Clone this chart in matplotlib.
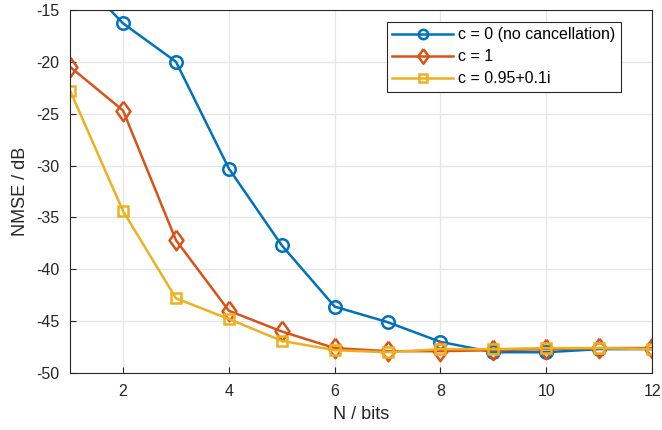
import numpy as np
import matplotlib.pyplot as plt

plt.rcParams['font.family'] = ['Liberation Sans', 'DejaVu Sans']
plt.rcParams['axes.unicode_minus'] = False

# NMSE vs number of bits for three cancellation settings
bits = [1, 2, 3, 4, 5, 6, 7, 8, 9, 10, 11, 12]
nmse_c0 = [-11.0, -16.3, -20.0, -30.3, -37.7, -43.6, -45.1, -47.0, -48.0, -48.0, -47.7, -47.7]
nmse_c1 = [-20.5, -24.7, -37.2, -44.0, -46.0, -47.6, -47.9, -47.9, -47.8, -47.7, -47.6, -47.6]
nmse_cx = [-22.8, -34.4, -42.8, -44.8, -46.9, -47.8, -48.0, -47.7, -47.7, -47.6, -47.6, -47.7]

labels = ['c = 0 (no cancellation)', 'c = 1', 'c = 0.95+0.1i']

# MATLAB style diamond: a bit taller than wide
diamond = [(0, 1), (0.72, 0), (0, -1), (-0.72, 0), (0, 1)]

fig = plt.figure(figsize=(6.62, 4.30), dpi=100)
ax = fig.add_axes([0.106, 0.1326, 0.879, 0.8444])

ax.plot(bits, nmse_c0, color='#0072BD', marker='o', markersize=9, mfc='none',
        mew=1.8, lw=1.8, label=labels[0])
ax.plot(bits, nmse_c1, color='#D95319', marker=diamond, markersize=14, mfc='none',
        mew=1.8, lw=1.8, label=labels[1])
ax.plot(bits, nmse_cx, color='#EDB120', marker='s', markersize=7, mfc='none',
        mew=1.8, lw=1.8, label=labels[2])

ax.set_xlim(1, 12)
ax.set_ylim(-50, -15)
ax.set_xticks([2, 4, 6, 8, 10, 12])
ax.set_yticks(np.arange(-50, -14, 5))
ax.grid(True, color='#e6e6e6', lw=0.9)
ax.set_axisbelow(True)
ax.tick_params(direction='in', length=4, labelsize=11.5, colors='#262626')
ax.tick_params(axis='y', pad=8)
ax.tick_params(axis='x', pad=8)
for s in ax.spines.values():
    s.set_color('#262626')
    s.set_linewidth(0.8)

ax.set_xlabel('N / bits', fontsize=13, color='#262626', labelpad=5)
ax.set_ylabel('NMSE / dB', fontsize=13, color='#262626', labelpad=5)

leg = ax.legend(loc='upper right', bbox_to_anchor=(0.946, 0.968), fontsize=11.5,
                fancybox=False, framealpha=1, edgecolor='#262626',
                handlelength=3.8, markerscale=0.75, borderpad=0.35,
                labelspacing=0.45, handletextpad=0.3, borderaxespad=0)
leg.get_frame().set_linewidth(0.8)

fig.savefig('out.png', dpi=100)
